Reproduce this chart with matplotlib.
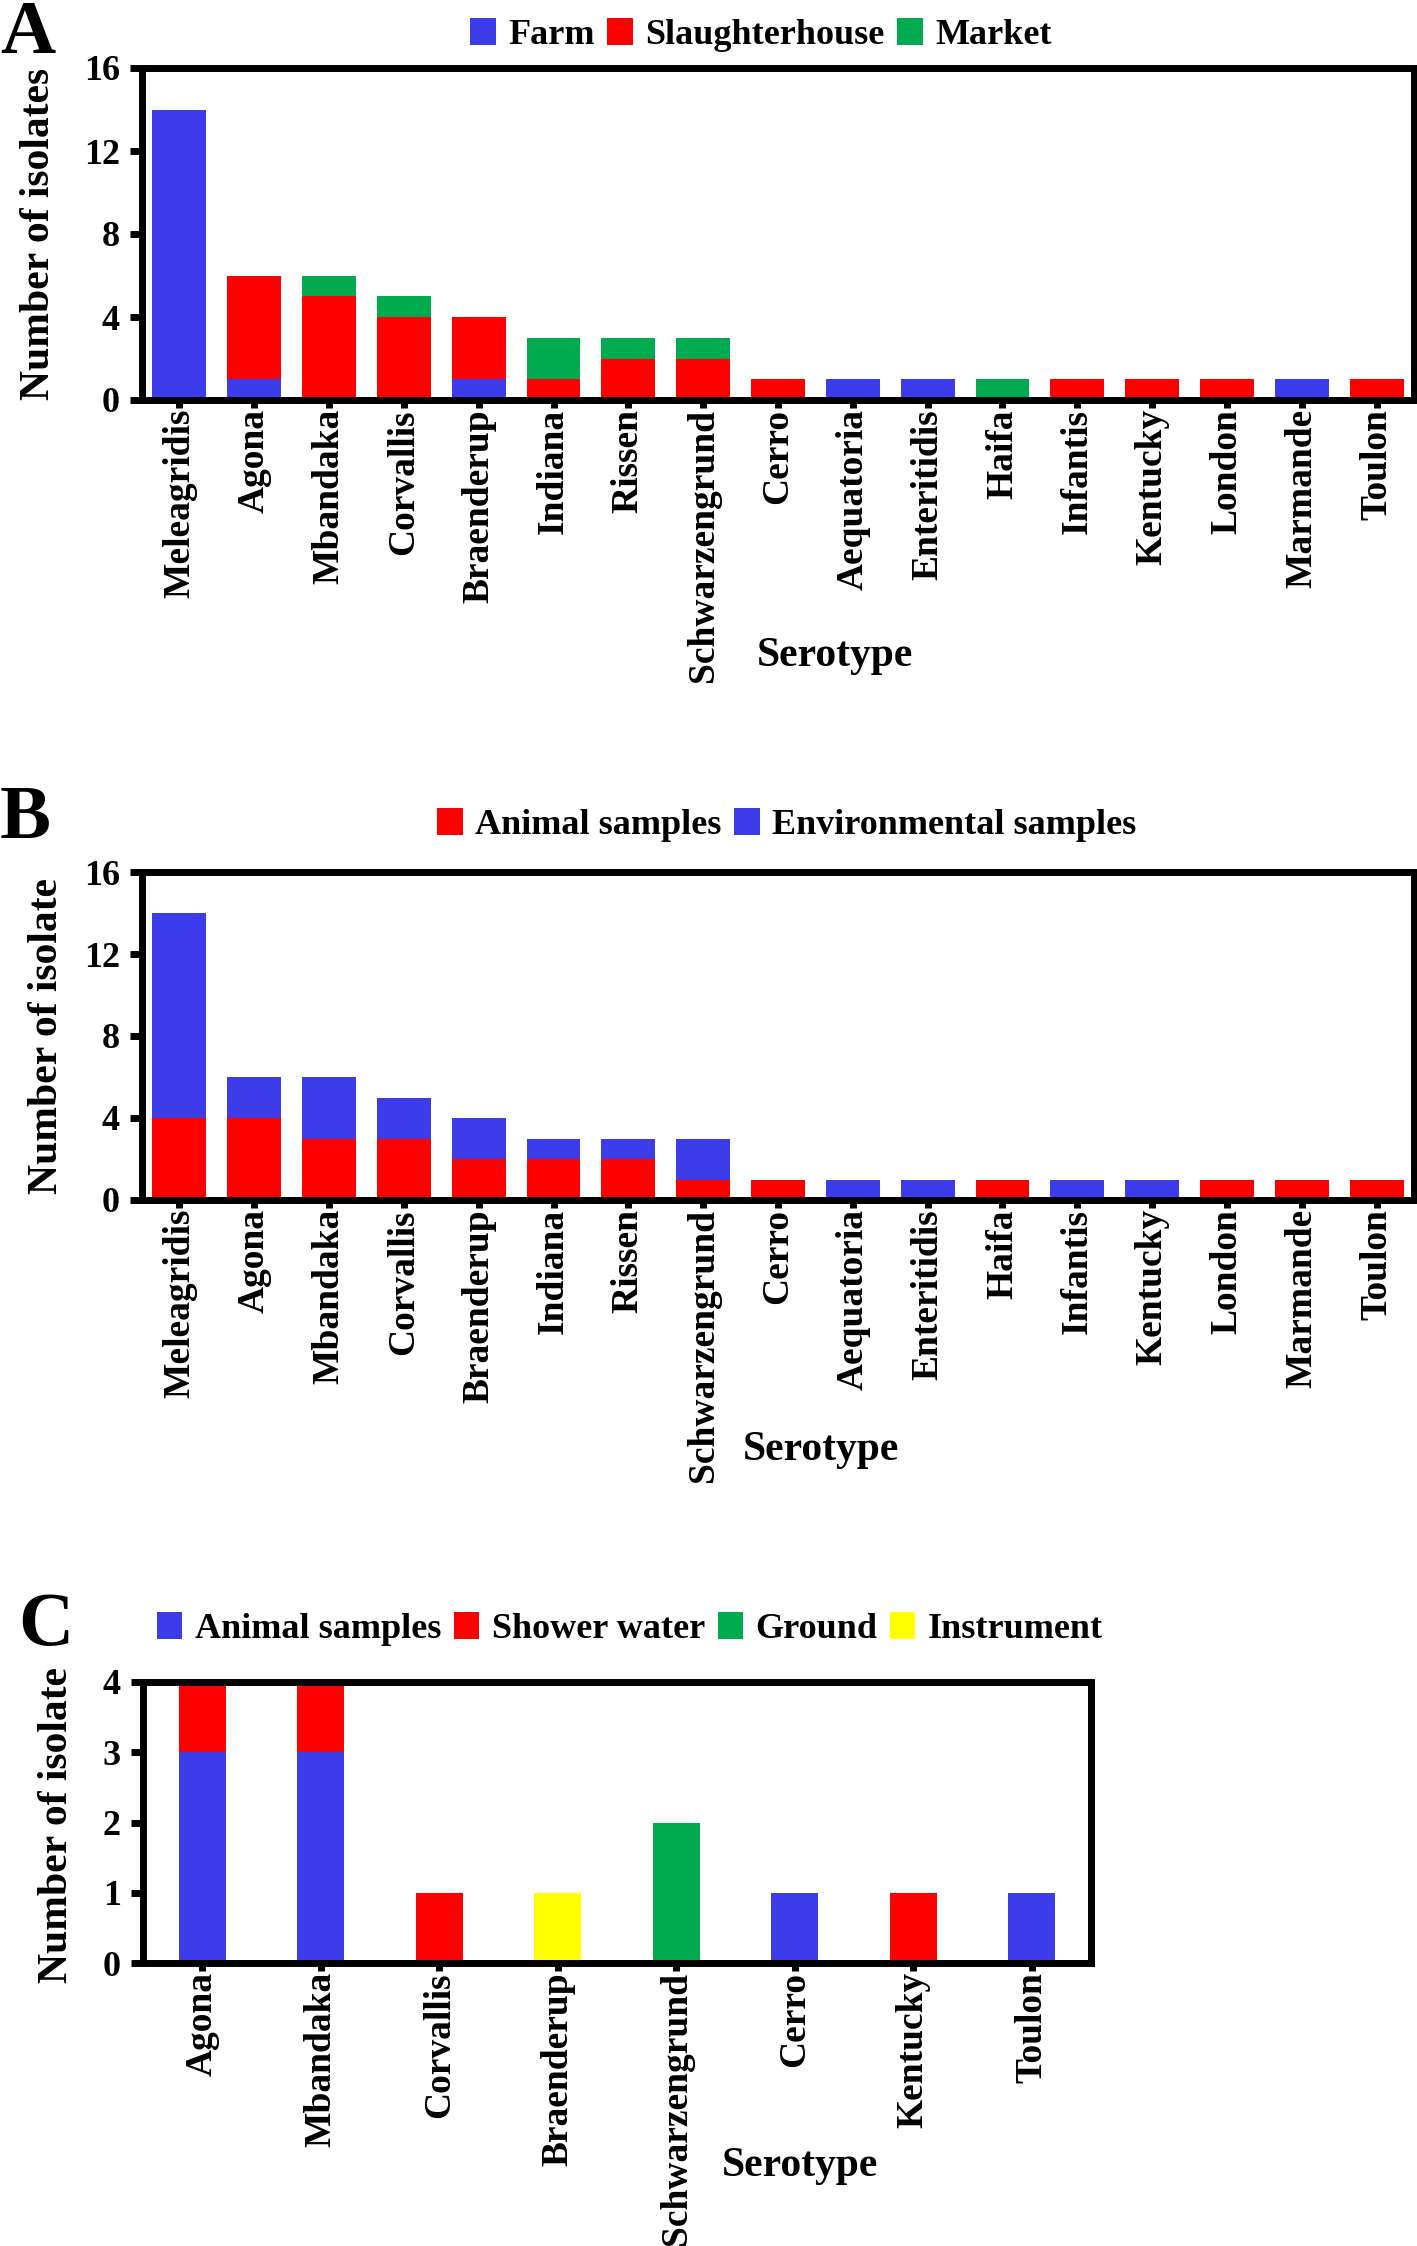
import matplotlib
matplotlib.use("Agg")
import matplotlib.pyplot as plt
from matplotlib.patches import Patch
import numpy as np

plt.rcParams['font.family'] = ['Liberation Serif', 'DejaVu Serif']
plt.rcParams['font.weight'] = 'bold'

# ---------------- data ----------------
serotypes_ab = ["Meleagridis", "Agona", "Mbandaka", "Corvallis", "Braenderup", "Indiana",
                "Rissen", "Schwarzengrund", "Cerro", "Aequatoria", "Enteritidis", "Haifa",
                "Infantis", "Kentucky", "London", "Marmande", "Toulon"]
# Panel A
farm = [14, 1, 0, 0, 1, 0, 0, 0, 0, 1, 1, 0, 0, 0, 0, 1, 0]
slaughterhouse = [0, 5, 5, 4, 3, 1, 2, 2, 1, 0, 0, 0, 1, 1, 1, 0, 1]
market = [0, 0, 1, 1, 0, 2, 1, 1, 0, 0, 0, 1, 0, 0, 0, 0, 0]
# Panel B
animal_b = [4, 4, 3, 3, 2, 2, 2, 1, 1, 0, 0, 1, 0, 0, 1, 1, 1]
environmental_b = [10, 2, 3, 2, 2, 1, 1, 2, 0, 1, 1, 0, 1, 1, 0, 0, 0]
# Panel C
serotypes_c = ["Agona", "Mbandaka", "Corvallis", "Braenderup", "Schwarzengrund",
               "Cerro", "Kentucky", "Toulon"]
animal_c = [3, 3, 0, 0, 0, 1, 0, 1]
shower_c = [1, 1, 1, 0, 0, 0, 1, 0]
ground_c = [0, 0, 0, 0, 2, 0, 0, 0]
instrument_c = [0, 0, 0, 1, 0, 0, 0, 0]

yticks_ab = [0, 4, 8, 12, 16]
yticks_c = [0, 1, 2, 3, 4]

BLUE = "#3C3CEB"
RED = "#FF0000"
GREEN = "#00AA4E"
YELLOW = "#FFFF00"

W, H = 1417, 2246
fig = plt.figure(figsize=(W / 100, H / 100), dpi=100)


def fx(px):
    return px / W


def fy(py):
    return 1 - py / H


def style_axes(ax, labels, yticks, xlim, ylim):
    for s in ax.spines.values():
        s.set_linewidth(5)
        s.set_color("black")
    ax.set_xlim(*xlim)
    ax.set_ylim(*ylim)
    ax.set_xticks(np.arange(len(labels)))
    ax.set_xticklabels(labels, rotation=90, fontsize=27, fontweight='bold')
    ax.set_yticks(yticks)
    ax.set_yticklabels([str(t) for t in yticks], fontsize=26, fontweight='bold')
    ax.tick_params(axis='x', direction='out', length=5.5, width=5, pad=1)
    ax.tick_params(axis='y', direction='out', length=9, width=5, pad=7)


def stacked(ax, series, colors, width):
    x = np.arange(len(series[0]))
    bottom = np.zeros(len(series[0]))
    for vals, c in zip(series, colors):
        v = np.array(vals, dtype=float)
        ax.bar(x, v, width=width, bottom=bottom, color=c, edgecolor='none', zorder=2)
        bottom += v


def legend(labels, colors, cx, cy):
    handles = [Patch(facecolor=c, edgecolor='none') for c in colors]
    fig.legend(handles, labels, loc='center', bbox_to_anchor=(cx, cy), ncol=len(labels),
               frameon=False, prop={'size': 26, 'weight': 'bold'}, handlelength=0.7,
               handleheight=0.8, handletextpad=0.35, columnspacing=0.35, borderpad=0,
               borderaxespad=0)


# ---------------- Panel A ----------------
axA = fig.add_axes([fx(142), fy(400), fx(1414 - 142), (400 - 68) / H])
stacked(axA, [farm, slaughterhouse, market], [BLUE, RED, GREEN], 0.72)
style_axes(axA, serotypes_ab, yticks_ab, (-0.5, 16.5), (0, 16))
legend(["Farm", "Slaughterhouse", "Market"], [BLUE, RED, GREEN], fx(761), fy(35))
fig.text(fx(39), fy(234), "Number of isolates", rotation=90, ha='center', va='center',
         fontsize=30, fontweight='bold')
fig.text(fx(835), fy(656), "Serotype", ha='center', va='center', fontsize=30, fontweight='bold')
fig.text(0.0, 1.0, "A", ha='left', va='top', fontsize=55, fontweight='bold')

# ---------------- Panel B ----------------
axB = fig.add_axes([fx(142), fy(1200), fx(1414 - 142), (1200 - 872) / H])
stacked(axB, [animal_b, environmental_b], [RED, BLUE], 0.72)
style_axes(axB, serotypes_ab, yticks_ab, (-0.5, 16.5), (0, 16))
legend(["Animal samples", "Environmental samples"], [RED, BLUE], fx(787), fy(825))
fig.text(fx(47), fy(1036), "Number of isolate", rotation=90, ha='center', va='center',
         fontsize=30, fontweight='bold')
fig.text(fx(821), fy(1450), "Serotype", ha='center', va='center', fontsize=30, fontweight='bold')
fig.text(0.0, fy(785), "B", ha='left', va='top', fontsize=55, fontweight='bold')

# ---------------- Panel C ----------------
axC = fig.add_axes([fx(143), fy(1963), fx(1091 - 143), (1963 - 1682) / H])
stacked(axC, [animal_c, shower_c, ground_c, instrument_c], [BLUE, RED, GREEN, YELLOW], 0.4)
style_axes(axC, serotypes_c, yticks_c, (-0.5, 7.5), (0, 4))
legend(["Animal samples", "Shower water", "Ground", "Instrument"],
       [BLUE, RED, GREEN, YELLOW], fx(630), fy(1629))
fig.text(fx(57), fy(1825), "Number of isolate", rotation=90, ha='center', va='center',
         fontsize=30, fontweight='bold')
fig.text(fx(800), fy(2166), "Serotype", ha='center', va='center', fontsize=30, fontweight='bold')
fig.text(fx(18), fy(1592), "C", ha='left', va='top', fontsize=55, fontweight='bold')

fig.savefig("out.png", dpi=100)
